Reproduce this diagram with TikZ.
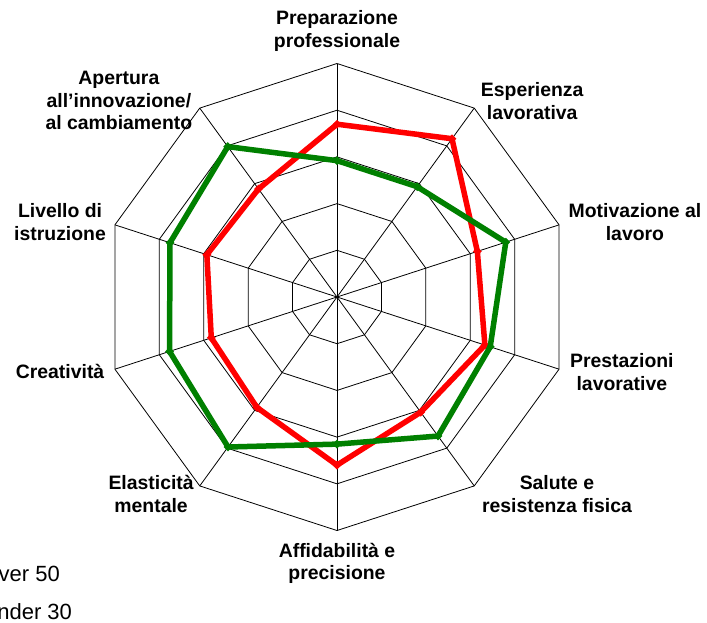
\documentclass[tikz,border=0pt]{standalone}
\usepackage{fontspec}
\setmainfont{Liberation Sans}
\usepackage{tikz}
\usetikzlibrary{shapes.geometric}

\definecolor{lineRed}{RGB}{255,0,0}
\definecolor{lineGreen}{RGB}{0,128,0}

\tikzset{
    gridline/.style={draw=black, line width=0.8pt},
    redline/.style={draw=lineRed, line width=5.5pt, line join=round},
    greenline/.style={draw=lineGreen, line width=5.5pt, line join=round},
    reddot/.style={diamond, fill=lineRed, inner sep=0pt, minimum size=9pt},
    greendot/.style={diamond, fill=lineGreen, inner sep=0pt, minimum size=9pt},
    axislabel/.style={align=center, font=\fontsize{19.4}{22.5}\selectfont\bfseries, inner sep=0pt},
    legendtext/.style={font=\fontsize{22}{26}\selectfont, inner sep=0pt}
}

\begin{document}
\begin{tikzpicture}[x=46.7pt, y=46.7pt]
            \useasboundingbox (-7.216,-6.960) rectangle (7.923,6.360);
            \clip (-7.216,-6.960) rectangle (7.923,6.360);

            % grid
            \foreach \r in {1,...,5}
                \draw[gridline] (90:\r) \foreach \a in {1,...,9}{ -- (90-36*\a:\r)} -- cycle;
            \foreach \a in {0,...,9}
                \draw[gridline] (0,0) -- (90-36*\a:5);

            % over 50
            \node[reddot] at (90:3.70)   (r1) {};
            \node[reddot] at (54:4.19)   (r2) {};
            \node[reddot] at (18:3.16)   (r3) {};
            \node[reddot] at (-18:3.33)  (r4) {};
            \node[reddot] at (-54:3.05)  (r5) {};
            \node[reddot] at (-90:3.60)  (r6) {};
            \node[reddot] at (-126:2.92) (r7) {};
            \node[reddot] at (-162:2.83) (r8) {};
            \node[reddot] at (162:2.93)  (r9) {};
            \node[reddot] at (126:2.86)  (r10) {};

            % under 30
            \node[greendot] at (90:2.92)   (g1) {};
            \node[greendot] at (54:2.92)   (g2) {};
            \node[greendot] at (18:3.80)   (g3) {};
            \node[greendot] at (-18:3.45)  (g4) {};
            \node[greendot] at (-54:3.68)  (g5) {};
            \node[greendot] at (-90:3.15)  (g6) {};
            \node[greendot] at (-126:3.97) (g7) {};
            \node[greendot] at (-162:3.77) (g8) {};
            \node[greendot] at (162:3.76)  (g9) {};
            \node[greendot] at (126:3.98)  (g10) {};

            \draw[redline] (r1.center) -- (r2.center) -- (r3.center) -- (r4.center) -- (r5.center)
                -- (r6.center) -- (r7.center) -- (r8.center) -- (r9.center) -- (r10.center) -- cycle;
            \draw[greenline] (g1.center) -- (g2.center) -- (g3.center) -- (g4.center) -- (g5.center)
                -- (g6.center) -- (g7.center) -- (g8.center) -- (g9.center) -- (g10.center) -- cycle;

            % axis labels
            \node[axislabel] at (0,5.70)      (prep) {Preparazione\\professionale};
            \node[axislabel] at (4.18,4.20)   (esp)  {Esperienza\\lavorativa};
            \node[axislabel] at (6.38,1.61)   (mot)  {Motivazione al\\lavoro};
            \node[axislabel] at (6.10,-1.61)  (pres) {Prestazioni\\lavorative};
            \node[axislabel] at (4.71,-4.22)  (sal)  {Salute e\\resistenza fisica};
            \node[axislabel] at (0,-5.70)     (aff)  {Affidabilità e\\precisione};
            \node[axislabel] at (-3.98,-4.22) (ela)  {Elasticità\\mentale};
            \node[axislabel] at (-5.93,-1.60) (cre)  {Creatività};
            \node[axislabel] at (-5.93,1.61)  (liv)  {Livello di\\istruzione};
            \node[axislabel] at (-4.67,4.20)  (ape)  {Apertura\\all’innovazione/\\al cambiamento};

            % legend
            \node[legendtext, anchor=base east] at (-5.93,-6.10) (over) {over 50};
            \node[legendtext, anchor=base east] at (-5.67,-6.90) (under) {under 30};
        \end{tikzpicture}
\end{document}
